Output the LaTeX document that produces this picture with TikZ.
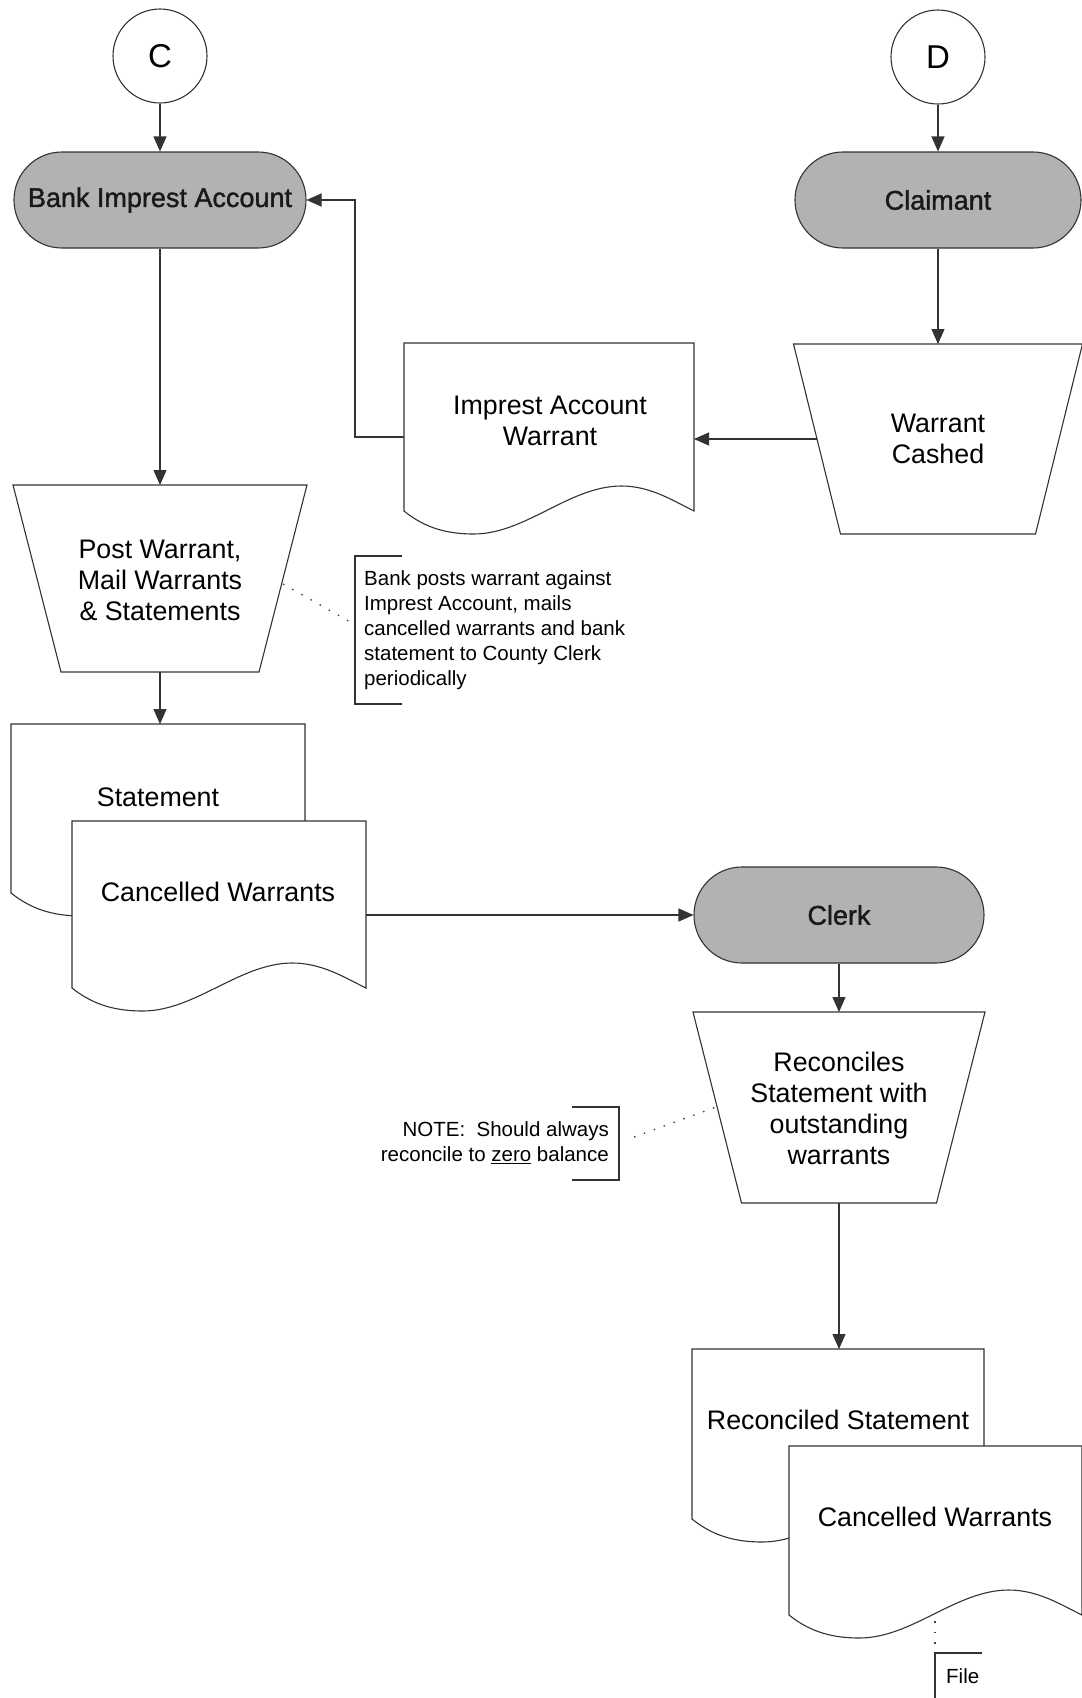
\documentclass[tikz,border=0pt]{standalone}
\usepackage{fontspec}
\setmainfont{Liberation Sans}
\newfontfamily\termfont[FakeBold=1.4]{Liberation Sans}
\usetikzlibrary{arrows.meta}

\tikzset{
 ln/.style={draw=black!80, line width=1.1pt},
 arr/.style={ln, -{Triangle[length=15pt,width=13pt]}},
 shp/.style={ln, fill=white},
 term/.style={ln, fill=black!30, rounded corners=47.9pt, minimum height=96pt, inner sep=0pt, text=black!90, font=\termfont\fontsize{27}{31}\selectfont},
 conn/.style={ln, circle, minimum size=94pt, inner sep=0pt, fill=white, font=\fontsize{33}{38}\selectfont},
 box/.style={draw=none, inner sep=0pt, outer sep=0pt},
 lbl/.style={align=center, inner sep=0pt, font=\fontsize{26.8}{31}\selectfont},
 note/.style={inner sep=0pt, font=\fontsize{20.5}{25}\selectfont},
 dotl/.style={draw=black!75, line width=1.3pt, dash pattern=on 1.5pt off 9pt},
}

% document shape: L R T B(end of wave)
\newcommand\docshape[4]{%
 \pgfmathsetmacro\dW{#2-#1}%
 \draw[shp] (#1,#3) -- (#2,#3) -- (#2,#4)
   .. controls ({#1+0.93*\dW},{#4-10}) and ({#1+0.85*\dW},{#4-25}) .. ({#1+0.75*\dW},{#4-25})
   .. controls ({#1+0.57*\dW},{#4-25}) and ({#1+0.42*\dW},{#4+23}) .. ({#1+0.24*\dW},{#4+23})
   .. controls ({#1+0.13*\dW},{#4+23}) and ({#1+0.06*\dW},{#4+14}) .. (#1,#4) -- cycle;
}
% inverted trapezoid around a named box node, inset at the bottom
\newcommand\trapshape[2]{%
 \draw[shp] (#1.north west) -- (#1.north east) -- ([xshift=-#2]#1.south east) -- ([xshift=#2]#1.south west) -- cycle;
}

\begin{document}
\begin{tikzpicture}[x=1pt,y=-1pt]
\fill[white] (0,0) rectangle (1082,1698);
\useasboundingbox (0,0) rectangle (1082,1698);

% connectors (circles)
\node[conn] (c) at (160,56) {C};
\node[conn] (d) at (938,57) {D};

% terminals
\node[term, minimum width=292pt] (bia) at (160,200) {Bank Imprest Account};
\node[term, minimum width=286pt] (cl) at (938,200) {Claimant};
\node[term, minimum width=290pt] (clerk) at (839,915) {Clerk};

% Imprest Account Warrant document
\node[box, minimum width=290pt, minimum height=188pt] (iaw) at (549,437) {};
\docshape{404}{694}{343}{511}
\node[lbl] (iawt) at (550,421) {Imprest Account\\Warrant};

% Warrant Cashed
\node[box, minimum width=289pt, minimum height=190pt] (wc) at (938,439) {};
\trapshape{wc}{47pt}
\node[lbl] (wct) at (938,439) {Warrant\\Cashed};

% Post Warrant
\node[box, minimum width=294pt, minimum height=187pt] (pw) at (160,578.5) {};
\trapshape{pw}{48pt}
\node[lbl] (pwt) at (160,580) {Post Warrant,\\Mail Warrants\\\& Statements};

% Statement + Cancelled Warrants
\node[box, minimum width=294pt, minimum height=188pt] (stmt) at (158,818) {};
\docshape{11}{305}{724}{893}
\node[lbl] (stmtt) at (158,797) {Statement};
\node[box, minimum width=294pt, minimum height=188pt] (cw) at (219,915) {};
\docshape{72}{366}{821}{988}
\node[lbl] (cwt) at (218,892) {Cancelled Warrants};

% Reconciles
\node[box, minimum width=292pt, minimum height=191pt] (rec) at (839,1107.5) {};
\trapshape{rec}{48.5pt}
\node[lbl] (rect) at (839,1108) {Reconciles\\Statement with\\outstanding\\warrants};

% Reconciled Statement + Cancelled Warrants
\node[box, minimum width=292pt, minimum height=188pt] (rs) at (838,1443) {};
\docshape{692}{984}{1349}{1519}
\node[lbl] (rst) at (838,1420) {Reconciled Statement};
\node[box, minimum width=293pt, minimum height=188pt] (cw2) at (935.5,1540) {};
\docshape{789}{1082}{1446}{1615}
\node[lbl] (cw2t) at (935,1517) {Cancelled Warrants};

% annotations
\draw[ln] (402,556) -- (355,556) -- (355,704) -- (402,704);
\node[note, anchor=west, align=left] (n1) at (364,630)
 {Bank posts warrant against\\Imprest Account, mails\\cancelled warrants and bank\\statement to County Clerk\\periodically};
\coordinate (n1a) at (283,584);
\coordinate (n1b) at (352,623);
\draw[dotl] (n1a) -- (n1b);

\draw[ln] (572,1107) -- (619,1107) -- (619,1180) -- (572,1180);
\node[note, anchor=east, align=right] (n2) at (609,1143)
 {NOTE:\ \ Should always\\reconcile to \underline{zero} balance};
\coordinate (n2a) at (634,1137);
\coordinate (n2b) at (716,1107);
\draw[dotl] (n2a) -- (n2b);

\draw[ln] (982,1653) -- (935,1653) -- (935,1702);
\node[note, anchor=west] (file) at (946,1676) {File};
\coordinate (fa) at (935,1621);
\coordinate (fb) at (935,1648);
\draw[dotl] (fa) -- (fb);

% flow arrows
\draw[arr] (c.south) -- (bia.north);
\draw[arr] (d.south) -- (cl.north);
\draw[arr] (bia.south) -- (pw.north);
\draw[arr] (cl.south) -- (wc.north);
\draw[arr] ([xshift=23pt]wc.west) -- (wc.west -| iaw.east);
\draw[arr] (iaw.west) -- ++(-49,0) |- (bia.east);
\draw[arr] (pw.south) -- (pw.south |- stmt.north);
\draw[arr] (cw.east) -- (clerk.west);
\draw[arr] (clerk.south) -- (rec.north);
\draw[arr] (rec.south) -- (rec.south |- rs.north);
\end{tikzpicture}
\end{document}
